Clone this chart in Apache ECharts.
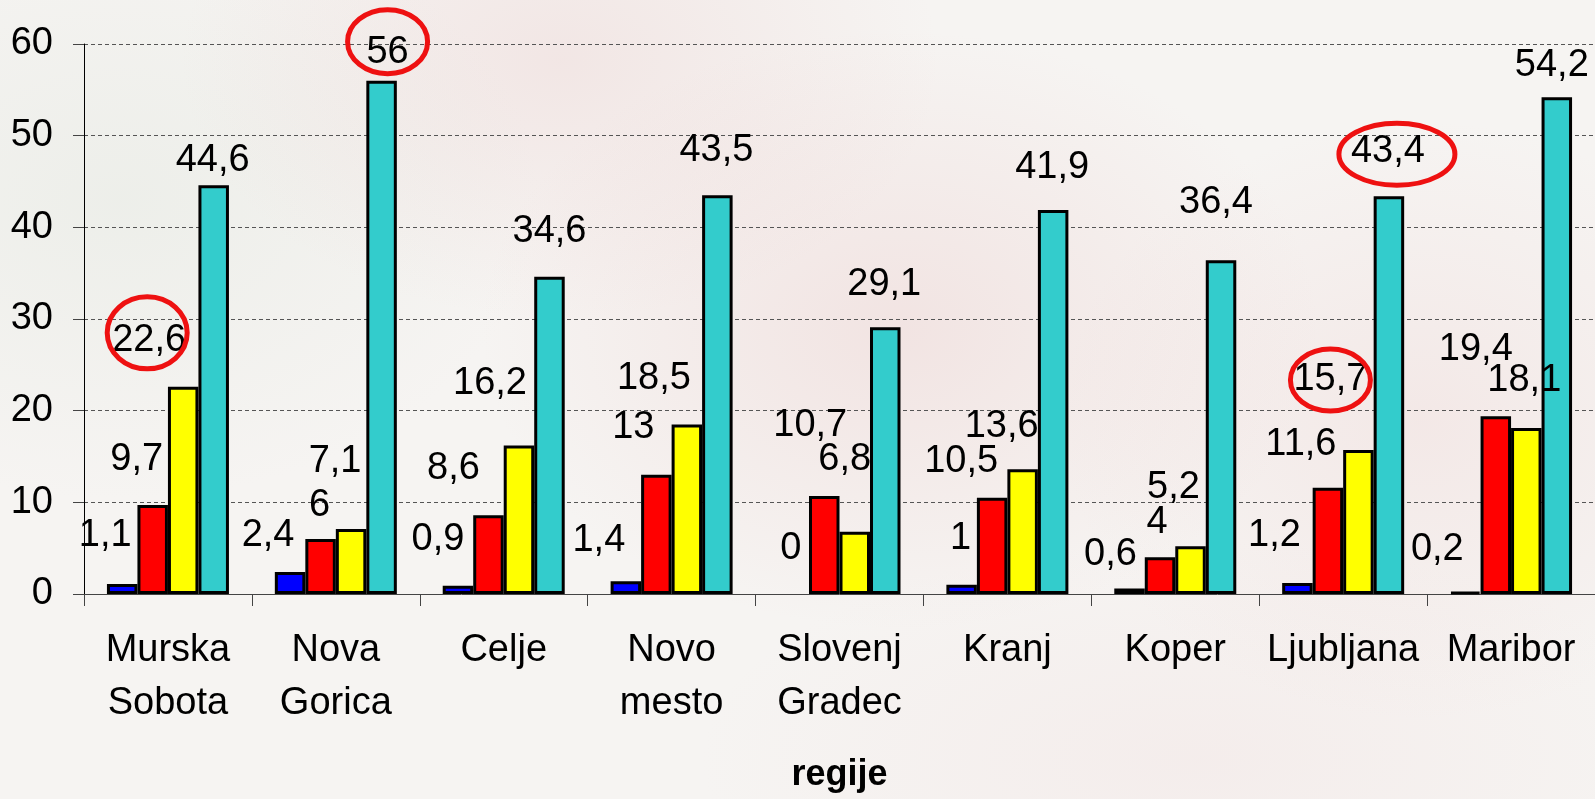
<!DOCTYPE html>
<html>
<head>
<meta charset="utf-8">
<title>regije</title>
<script src="https://cdn.jsdelivr.net/npm/echarts@6/dist/echarts.min.js"></script>
<style>
  html, body { margin: 0; padding: 0; width: 100%; height: 100%; overflow: hidden; }
  body {
    background-color: #f6f4f2;
    background-image:
      radial-gradient(ellipse 420px 300px at 900px 330px, rgba(226, 170, 170, 0.22), rgba(226, 170, 170, 0) 100%),
      radial-gradient(ellipse 380px 260px at 560px 60px, rgba(225, 175, 175, 0.20), rgba(225, 175, 175, 0) 100%),
      radial-gradient(ellipse 360px 300px at 1420px 420px, rgba(232, 185, 185, 0.20), rgba(232, 185, 185, 0) 100%),
      radial-gradient(ellipse 420px 300px at 120px 200px, rgba(220, 228, 218, 0.35), rgba(220, 228, 218, 0) 100%),
      radial-gradient(ellipse 500px 220px at 1200px 760px, rgba(240, 220, 220, 0.30), rgba(240, 220, 220, 0) 100%);
  }
  #chart { width: 1595px; height: 799px; }
</style>
</head>
<body>
<div id="chart"></div>
<script>
// Regions on the category axis
const categories = ['Murska\nSobota', 'Nova\nGorica', 'Celje', 'Novo\nmesto', 'Slovenj\nGradec', 'Kranj', 'Koper', 'Ljubljana', 'Maribor'];

// Four value series per region
const seriesBlue   = [1.1, 2.4, 0.9, 1.4, 0, 1, 0.6, 1.2, 0.2];
const seriesRed    = [9.7, 6, 8.6, 13, 10.7, 10.5, 4, 11.6, 19.4];
const seriesYellow = [22.6, 7.1, 16.2, 18.5, 6.8, 13.6, 5.2, 15.7, 18.1];
const seriesCyan   = [44.6, 56, 34.6, 43.5, 29.1, 41.9, 36.4, 43.4, 54.2];

// Value axis ticks
const yTicks = [0, 10, 20, 30, 40, 50, 60];

// Label nudges [dx, dy] in px, relative to the top centre of each bar
const labelNudge = [
  [[-17,-48],[-22,-36],[-20,-46],[-27,-41],[-3,-45],[-1,-46],[-19,-34],[-23,-47],[-28,-42]],
  [[-16,-46],[-1,-33],[-35,-47],[-23,-47],[-14,-70],[-31,-36],[-3,-35],[-27,-43],[-20,-67]],
  [[-34,-46],[-16,-67],[-29,-62],[-33,-46],[-10,-72],[-21,-43],[-17,-59],[-28,-71],[-2,-48]],
  [[-1,-25],[6,-28],[0,-45],[-1,-45],[-1,-43],[-1,-42],[-5,-58],[-1,-45],[-5,-32]]
];

// Highlighted labels: [series, category, ellipse dx, ellipse dy, rx, ry]
const highlights = [
  [2, 0, -2, -8, 40, 36],
  [3, 1, 0, -11, 40, 32],
  [3, 7, 9, 3, 58, 31],
  [2, 7, 0, 1, 40, 31]
];

const FONT = "'Liberation Sans', Arial, sans-serif";
const BAR_W = 30.5;
const colors = ['#0000ff', '#ff0000', '#ffff00', '#33cccc'];
const seriesData = [seriesBlue, seriesRed, seriesYellow, seriesCyan];
const seriesNames = ['Serija 1', 'Serija 2', 'Serija 3', 'Serija 4'];

function fmt(v) { return String(v).replace('.', ','); }

const chart = echarts.init(document.getElementById('chart'), null, { renderer: 'canvas' });

const option = {
  backgroundColor: 'transparent',
  animation: false,
  grid: { left: 84, right: 0, top: 44, bottom: 204, containLabel: false },
  xAxis: {
    type: 'category',
    data: categories,
    name: 'regije',
    nameLocation: 'middle',
    nameGap: 181,
    nameTextStyle: { fontFamily: FONT, fontSize: 36, fontWeight: 'bold', color: '#000', verticalAlign: 'middle', lineHeight: 38 },
    axisLine: { show: true, lineStyle: { color: '#444', width: 1 } },
    axisTick: { show: true, length: 12, alignWithLabel: false, lineStyle: { color: '#444', width: 1 } },
    axisLabel: { interval: 0, margin: 30, fontFamily: FONT, fontSize: 38, lineHeight: 53, color: '#000' },
    splitLine: { show: false }
  },
  yAxis: {
    type: 'value',
    min: yTicks[0],
    max: yTicks[yTicks.length - 1],
    interval: yTicks[1] - yTicks[0],
    axisLine: { show: true, lineStyle: { color: '#000', width: 1 } },
    axisTick: { show: true, length: 11, lineStyle: { color: '#444', width: 1 } },
    axisLabel: { margin: 31, fontFamily: FONT, fontSize: 38, color: '#000' },
    splitLine: { show: true, lineStyle: { color: '#555', width: 1, type: [4, 3] } }
  },
  series: seriesData.map(function (vals, s) {
    return {
      name: seriesNames[s],
      type: 'bar',
      barWidth: BAR_W,
      barGap: '0%',
      itemStyle: { color: colors[s], borderColor: '#000', borderWidth: 3 },
      label: {
        show: true,
        position: 'top',
        distance: 0,
        align: 'center',
        verticalAlign: 'middle',
        fontFamily: FONT,
        fontSize: 38,
        color: '#000',
        formatter: function (p) { return fmt(p.value); }
      },
      data: vals.map(function (v, i) {
        const item = { value: v, label: { offset: labelNudge[s][i] } };
        // an empty bar gets no outline
        if (v === 0) item.itemStyle = { borderWidth: 0 };
        return item;
      })
    };
  })
};

chart.setOption(option);

// Red ellipses drawn around selected value labels, anchored to the bar tops
const rings = highlights.map(function (h) {
  const s = h[0], c = h[1];
  const p = chart.convertToPixel({ xAxisIndex: 0, yAxisIndex: 0 }, [c, seriesData[s][c]]);
  const nudge = labelNudge[s][c];
  const cx = p[0] + (s - 1.5) * BAR_W + nudge[0] + h[2];
  const cy = p[1] + nudge[1] + h[3];
  return {
    type: 'ellipse',
    shape: { cx: cx, cy: cy, rx: h[4], ry: h[5] },
    style: { fill: 'none', stroke: '#ee1111', lineWidth: 5 },
    z: 100
  };
});
chart.setOption({ graphic: rings });
</script>
</body>
</html>
